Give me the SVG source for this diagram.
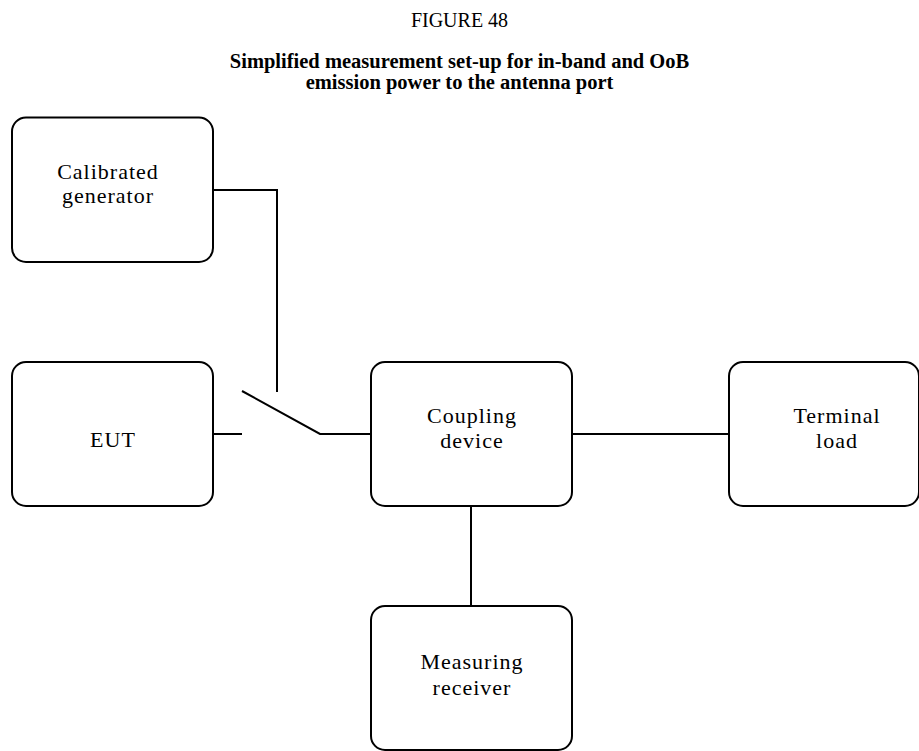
<svg xmlns="http://www.w3.org/2000/svg" width="919" height="751" viewBox="0 0 919 751">
<style>
.box{fill:#fff;stroke:#000;stroke-width:2}
.lbl{font-family:"Liberation Serif","Times New Roman",serif;font-size:22px;letter-spacing:1px;fill:#000;text-anchor:middle}
.conn{fill:none;stroke:#000;stroke-width:2}
.fig{font-family:"Liberation Serif","Times New Roman",serif;font-size:20px;fill:#000;text-anchor:middle}
.ttl{font-family:"Liberation Serif","Times New Roman",serif;font-size:20.5px;font-weight:bold;fill:#000;text-anchor:middle}
</style>
<rect width="919" height="751" fill="#fff"/>
<g id="title">
<text class="fig" x="459.5" y="27">FIGURE 48</text>
<text class="ttl" x="459.5" y="68">Simplified measurement set-up for in-band and OoB</text>
<text class="ttl" x="459.5" y="89">emission power to the antenna port</text>
</g>
<g id="connectors">
<polyline class="conn" points="213,190 277,190 277,392"/>
<line class="conn" x1="213" y1="434" x2="242" y2="434"/>
<polyline class="conn" points="242,391 320,434 371,434"/>
<line class="conn" x1="572" y1="434" x2="729" y2="434"/>
<line class="conn" x1="471" y1="506" x2="471" y2="606"/>
</g>
<g id="calibrated-generator">
<rect class="box" x="12" y="117.5" width="201" height="144.5" rx="14"/>
<text class="lbl" x="108" y="179">Calibrated</text>
<text class="lbl" x="108" y="203">generator</text>
</g>
<g id="eut">
<rect class="box" x="12" y="362" width="201" height="144" rx="14"/>
<text class="lbl" x="113" y="447">EUT</text>
</g>
<g id="coupling-device">
<rect class="box" x="371" y="362" width="201" height="144" rx="14"/>
<text class="lbl" x="472" y="423">Coupling</text>
<text class="lbl" x="472" y="448">device</text>
</g>
<g id="terminal-load">
<rect class="box" x="729" y="362" width="190" height="144" rx="14"/>
<text class="lbl" x="837" y="423">Terminal</text>
<text class="lbl" x="837" y="448">load</text>
</g>
<g id="measuring-receiver">
<rect class="box" x="371" y="606" width="201" height="144" rx="14"/>
<text class="lbl" x="472" y="669">Measuring</text>
<text class="lbl" x="472" y="695">receiver</text>
</g>
</svg>
